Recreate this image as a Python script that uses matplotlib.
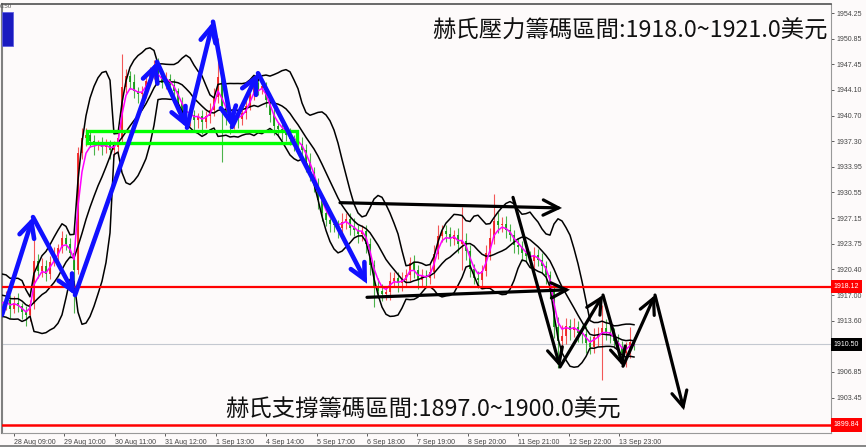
import numpy as np
import pandas as pd
import matplotlib
matplotlib.use("Agg")
import matplotlib.pyplot as plt
from matplotlib.patches import FancyArrowPatch, Rectangle

W, H, DPI = 866, 447, 100
BG = "#fdfafa"
CJK = ["Noto Sans CJK TC", "DejaVu Sans"]

# closes of the bars before the visible window (only used by the indicators)
warmup_closes = [1917.5, 1918.6, 1916.2, 1915.4, 1917.9, 1919.3, 1918.0, 1916.1, 1914.9]

# visible bars (one candle per two hourly bars)
closes = [
    1915.9, 1916.4, 1915.2, 1916.0, 1915.5, 1914.8, 1914.3, 1915.8, 1921.5, 1920.2,
    1920.9, 1919.8, 1921.4, 1922.3, 1923.2, 1924.6, 1923.8, 1922.5, 1920.3, 1935.8,
    1937.8, 1938.2, 1937.4, 1936.8, 1937.0, 1936.5, 1936.9, 1936.2, 1936.6, 1937.8,
    1944.5, 1945.9, 1945.2, 1943.9, 1943.5, 1943.8, 1945.3, 1946.4, 1947.3, 1945.9,
    1945.0, 1945.6, 1944.8, 1943.9, 1942.4, 1941.2, 1940.2, 1940.8, 1940.1, 1940.6,
    1939.9, 1940.7, 1941.4, 1943.2, 1945.8, 1942.0, 1940.6, 1939.8, 1940.4, 1940.2,
    1941.0, 1942.0, 1943.6, 1945.0, 1944.2, 1944.6, 1942.8, 1940.8, 1939.3, 1938.9,
    1938.5, 1938.2, 1937.6, 1937.2, 1937.0, 1936.2, 1934.6, 1933.2, 1931.5, 1929.6,
    1927.8, 1926.9, 1926.4, 1926.2, 1925.8, 1926.6, 1927.0, 1925.9, 1925.6, 1925.0,
    1925.4, 1923.8, 1921.0, 1918.2, 1917.6, 1917.1, 1917.4, 1918.9, 1919.2, 1918.6,
    1919.0, 1919.6, 1921.2, 1920.3, 1919.0, 1919.5, 1919.2, 1920.1, 1922.4, 1924.8,
    1925.4, 1925.0, 1924.4, 1924.9, 1923.7, 1924.2, 1922.8, 1920.4, 1919.3, 1919.0,
    1920.2, 1922.5, 1924.6, 1926.8, 1926.2, 1926.4, 1925.6, 1924.9, 1923.6, 1923.3,
    1922.6, 1922.1, 1921.5, 1922.3, 1921.6, 1920.8, 1919.6, 1917.6, 1912.8, 1910.9,
    1911.6, 1912.9, 1912.4, 1912.8, 1912.0, 1911.8, 1910.7, 1910.2, 1911.4, 1911.8,
    1912.6, 1912.1, 1911.9, 1910.9, 1910.0, 1909.3, 1909.6, 1910.8, 1910.5,
]
wick_up = [
    0.8, 1.1, 0.6, 0.9, 1.3, 0.5, 0.7, 0.6, 3.4, 0.9,
    1.0, 0.7, 0.8, 1.1, 0.6, 0.9, 0.5, 0.7, 0.6, 0.8,
    1.2, 0.9, 0.6, 0.8, 0.5, 0.9, 0.7, 0.6, 0.8, 0.7,
    4.4, 0.9, 0.7, 1.0, 0.6, 0.8, 0.9, 0.7, 0.8, 1.0,
    0.7, 0.9, 0.6, 0.8, 0.5, 0.7, 0.6, 0.9, 0.7, 0.5,
    0.8, 0.6, 0.9, 1.2, 5.2, 0.8, 0.7, 0.6, 0.8, 0.9,
    0.7, 0.9, 1.1, 0.8, 1.3, 0.7, 0.6, 0.9, 0.8, 0.6,
    0.7, 0.5, 0.8, 0.6, 0.7, 0.9, 0.8, 1.1, 0.7, 0.9,
    0.8, 1.0, 0.6, 0.9, 0.7, 1.2, 0.8, 0.9, 1.3, 0.7,
    0.8, 0.9, 0.7, 0.6, 1.0, 0.8, 0.7, 1.2, 0.9, 0.8,
    1.0, 0.9, 0.8, 1.1, 0.7, 0.9, 0.8, 1.0, 1.2, 1.4,
    0.9, 0.8, 1.0, 0.7, 0.9, 4.4, 1.0, 0.8, 0.7, 0.9,
    0.8, 1.1, 1.3, 3.6, 1.2, 0.9, 1.0, 0.8, 0.7, 0.9,
    0.8, 0.9, 0.7, 1.0, 0.8, 0.9, 0.7, 0.6, 0.9, 1.3,
    1.4, 1.1, 0.9, 1.2, 0.8, 1.0, 1.1, 0.9, 1.3, 1.0,
    3.1, 1.2, 0.9, 0.8, 1.0, 0.9, 1.2, 2.0, 0.7,
]
wick_dn = [
    0.7, 0.9, 1.2, 0.6, 0.8, 1.0, 1.4, 0.7, 0.6, 0.9,
    0.8, 1.0, 0.7, 0.6, 0.9, 0.7, 0.8, 0.6, 5.7, 0.5,
    0.8, 1.1, 0.9, 1.3, 0.7, 1.0, 0.8, 1.2, 0.9, 0.7,
    0.6, 0.8, 1.0, 0.9, 1.2, 0.7, 0.8, 0.6, 0.9, 0.8,
    0.7, 0.8, 0.9, 1.1, 0.8, 1.0, 1.3, 0.9, 1.4, 1.0,
    1.6, 0.9, 1.0, 0.7, 0.8, 7.4, 1.1, 1.5, 0.9, 1.2,
    0.8, 0.7, 0.6, 0.9, 0.8, 0.7, 1.0, 0.9, 1.1, 0.8,
    1.0, 0.9, 0.8, 1.2, 0.9, 1.0, 1.3, 1.1, 0.9, 1.2,
    1.0, 0.8, 1.1, 0.9, 1.3, 0.8, 0.9, 1.0, 0.8, 1.1,
    0.9, 1.2, 1.3, 2.8, 1.0, 0.9, 0.8, 1.1, 0.9, 1.2,
    1.0, 0.9, 0.8, 1.1, 1.2, 0.9, 1.0, 0.8, 0.9, 0.7,
    0.8, 1.0, 0.9, 0.8, 1.1, 3.4, 1.2, 1.0, 0.9, 1.1,
    0.8, 0.7, 0.9, 0.8, 1.0, 0.9, 1.1, 0.8, 1.0, 0.9,
    1.1, 0.8, 0.9, 1.0, 0.8, 0.9, 1.2, 1.0, 1.5, 3.6,
    1.3, 1.0, 1.4, 0.9, 1.2, 1.1, 1.3, 1.0, 0.9, 1.1,
    6.0, 1.0, 1.2, 0.9, 1.1, 1.0, 1.8, 0.9, 0.8,
]

time_labels = ["28 Aug 09:00", "29 Aug 10:00", "30 Aug 11:00", "31 Aug 12:00",
               "1 Sep 13:00", "4 Sep 14:00", "5 Sep 17:00", "6 Sep 18:00",
               "7 Sep 19:00", "8 Sep 20:00", "11 Sep 21:00", "12 Sep 22:00",
               "13 Sep 23:00"]
price_ticks = [1954.25, 1950.85, 1947.45, 1944.10, 1940.70, 1937.30, 1933.95,
               1930.55, 1927.15, 1923.75, 1920.40, 1917.00, 1913.60,
               1906.85, 1903.45]

resistance_line = 1918.12
support_line = 1899.84
last_price = 1910.50

# hand drawn annotations, (bar position, price)
blue_path = [(2, 1914.4), (33, 1927.3), (75, 1917.0), (157, 1947.8), (187, 1939.1),
             (213, 1953.1), (232, 1939.2), (258, 1946.3), (367, 1918.5)]
black_top = [(340, 1929.2), (562, 1928.5)]
black_bottom = [(367, 1916.7), (570, 1917.7)]
black_path = [(513, 1929.9), (560, 1907.5), (603, 1917.0), (623, 1907.6),
              (655, 1917.0), (684, 1901.8)]
green_box = (87, 1937.08, 297, 1938.67)

text_top = "赫氏壓力籌碼區間:1918.0~1921.0美元"
text_bottom = "赫氏支撐籌碼區間:1897.0~1900.0美元"

# ---------------------------------------------------------------------------
fig = plt.figure(figsize=(W / DPI, H / DPI), dpi=DPI, facecolor=BG)
ax = fig.add_axes([2 / W, (H - 433) / H, (831 - 2) / W, (433 - 4) / H], facecolor=BG)
ax.set_xlim(2, 831)
ax.set_ylim(1898.78, 1955.44)

n_warm = len(warmup_closes)
full = pd.Series(warmup_closes + closes)
xs_full = 2 + 4 * (np.arange(len(full)) - n_warm)
xs = xs_full[n_warm:]

c = np.array(closes)
o = full.shift(1).to_numpy()[n_warm:]
hi = np.maximum(o, c) + np.array(wick_up)
lo = np.minimum(o, c) - np.array(wick_dn)
up = c >= o
cols = np.where(up, "#f02020", "#119a11")

ax.vlines(xs, lo, hi, colors=cols, lw=0.8, alpha=0.75, zorder=2)
ax.bar(xs, np.maximum(np.abs(c - o), 0.15), bottom=np.minimum(o, c), width=2.0,
       color=cols, lw=0, alpha=0.9, zorder=2)

# Bollinger bands (20 hourly bars = 10 candles here) and fast average
mid = full.rolling(10).mean()
sd = full.rolling(10).std(ddof=0)
for band in (mid + 2 * sd, mid, mid - 2 * sd):
    ax.plot(xs_full, band, color="black", lw=1.1, zorder=3)
ma = full.ewm(span=3, adjust=False).mean()
ax.plot(xs_full, ma, color="#ff00ff", lw=1.1, zorder=4)

ax.axhline(resistance_line, color="#ff0000", lw=1.6, zorder=5)
ax.axhline(support_line, color="#ff0000", lw=1.8, zorder=5)
ax.axhline(last_price, color="#c4c8d0", lw=0.8, zorder=1)

x0, y0, x1, y1 = green_box
ax.add_patch(Rectangle((x0, y0), x1 - x0, y1 - y0, fill=False, ec="#00ff00",
                       lw=2.4, zorder=6))


def arrow(p0, p1, color, lw, ms):
    ax.add_patch(FancyArrowPatch(p0, p1, arrowstyle="->,head_length=0.5,head_width=0.25",
                                 mutation_scale=ms, lw=lw, color=color, shrinkA=0,
                                 shrinkB=0, capstyle="round", joinstyle="miter",
                                 zorder=7))


for a, b in zip(blue_path[:-1], blue_path[1:]):
    arrow(a, b, "#1010ff", 3.3, 22)
arrow(*black_top, "black", 2.3, 22)
arrow(*black_bottom, "black", 2.3, 22)
for a, b in zip(black_path[:-1], black_path[1:]):
    arrow(a, b, "black", 2.3, 22)

ax.text(828, 1951.9, text_top, ha="right", va="center", fontsize=16.8,
        family=CJK, color="#111111", zorder=8)
ax.text(423.5, 1901.8, text_bottom, ha="center", va="center", fontsize=16.8,
        family=CJK, color="#111111", zorder=8)

# axes, ticks
ax.yaxis.tick_right()
ax.set_yticks(price_ticks)
ax.set_yticklabels([f"{v:.2f}" for v in price_ticks])
ax.tick_params(axis="y", direction="out", length=2.5, width=0.6, pad=1.5,
               colors="#444444", labelsize=5)
tick_x = 14 + 50.42 * np.arange(len(time_labels))
ax.set_xticks(tick_x)
ax.set_xticklabels(time_labels)
ax.tick_params(axis="x", direction="out", length=2.5, width=0.6, pad=1.5,
               colors="#444444", labelsize=5)
for lab in ax.get_xticklabels():
    lab.set_horizontalalignment("left")
for lab in ax.get_xticklabels() + ax.get_yticklabels():
    lab.set_family("Liberation Sans")

for side, col, w in (("top", "#505050", 1.2), ("left", "#808080", 1.5),
                     ("right", "#999999", 0.8), ("bottom", "#999999", 0.8)):
    ax.spines[side].set_color(col)
    ax.spines[side].set_linewidth(w)

# price tags on the scale
for val, bg in ((resistance_line, "#ff0000"), (support_line, "#ff0000"),
                (last_price, "#000000")):
    ax.annotate(f"{val:.2f}", xy=(1.0, val), xycoords=("axes fraction", "data"),
                xytext=(2, 0), textcoords="offset points", ha="left", va="center",
                fontsize=5, family="Liberation Sans", color="white",
                bbox=dict(boxstyle="square,pad=0.45", fc=bg, ec="none"),
                annotation_clip=False, zorder=9)

# terminal window decorations
fig.patches.append(Rectangle((2 / W, 1 - 46 / H), 11 / W, 34 / H, transform=fig.transFigure,
                             fc="#1a1ac0", ec="#6060e0", lw=0.6, zorder=10))
fig.text(0 / W, 1 - 6 / H, "0.50", fontsize=4.5, color="#555555", va="center",
         family="Liberation Sans")
fig.patches.append(Rectangle((0, 0), 1, 2 / H, transform=fig.transFigure,
                             fc="#888888", ec="none"))

fig.savefig("out.png", dpi=DPI, facecolor=BG)
